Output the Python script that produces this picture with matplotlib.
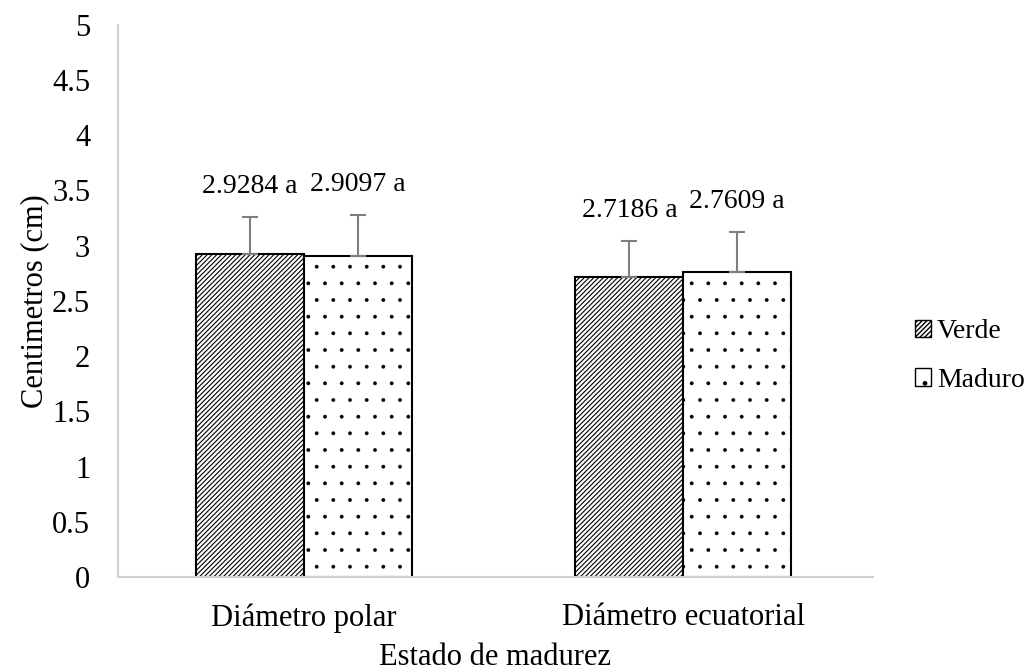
import numpy as np
import matplotlib.pyplot as plt
from matplotlib.patches import Patch

categories = ['Diámetro polar', 'Diámetro ecuatorial']
series = ['Verde', 'Maduro']
verde = [2.9284, 2.7186]
maduro = [2.9097, 2.7609]
verde_err = [0.335, 0.326]
maduro_err = [0.37, 0.362]
labels_verde = ['2.9284 a', '2.7186 a']
labels_maduro = ['2.9097 a', '2.7609 a']

plt.rcParams['font.family'] = ['Liberation Serif', 'DejaVu Serif']

fig = plt.figure(figsize=(10.33, 6.72), dpi=100)
ax = fig.add_axes([0.1142, 0.1414, 0.7308, 0.8216])

x = np.arange(len(categories))
w = 0.284
hatches = ['/' * 7, '.']
hatch_lw = [0.8, 0.3]
ebar = dict(ecolor='#7f7f7f', elinewidth=1.5, capsize=6, capthick=1.5)

groups = [(verde, verde_err, labels_verde, -w / 2), (maduro, maduro_err, labels_maduro, w / 2)]
for i, (vals, errs, labs, off) in enumerate(groups):
    with plt.rc_context({'hatch.linewidth': hatch_lw[i]}):
        ax.bar(x + off, vals, w, color='white', edgecolor='black', linewidth=1.5, hatch=hatches[i],
               yerr=[np.zeros(len(vals)), errs], error_kw=ebar, zorder=2)
    for xi, v, e, t in zip(x + off, vals, errs, labs):
        ax.text(xi, v + e + 0.16, t, ha='center', va='bottom', fontsize=20)

ax.set_xlim(-0.49, 1.5)
ax.set_ylim(0, 5)
ax.set_yticks(np.arange(0, 5.01, 0.5))
ax.set_yticklabels(['0', '0.5', '1', '1.5', '2', '2.5', '3', '3.5', '4', '4.5', '5'])
ax.set_xticks(x)
ax.set_xticklabels(categories)
ax.tick_params(axis='both', length=0, labelsize=22)
ax.tick_params(axis='y', pad=20)
ax.tick_params(axis='x', pad=19)

for s in ['top', 'right']:
    ax.spines[s].set_visible(False)
for s in ['left', 'bottom']:
    ax.spines[s].set_color('#d0d0d0')
    ax.spines[s].set_linewidth(1.5)

ax.set_ylabel('Centimetros (cm)', fontsize=22, labelpad=2)
ax.set_xlabel('Estado de madurez', fontsize=22, labelpad=7)

handles = []
for i in range(2):
    with plt.rc_context({'hatch.linewidth': hatch_lw[i]}):
        handles.append(Patch(facecolor='white', edgecolor='black', hatch=hatches[i], label=series[i]))
leg = fig.legend(handles=handles, loc='center left', bbox_to_anchor=(0.8855, 0.47), frameon=False,
                 fontsize=20, handlelength=0.6, handleheight=0.6, handletextpad=0.2, labelspacing=0.85,
                 borderpad=0, borderaxespad=0)

fig.savefig('out.png', dpi=100)
